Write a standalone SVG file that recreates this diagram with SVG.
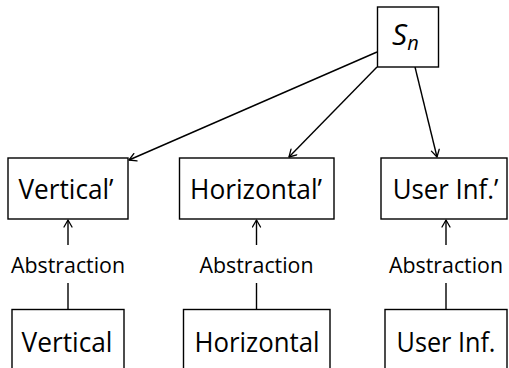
<svg xmlns="http://www.w3.org/2000/svg" width="509" height="368" viewBox="0 0 509 368">
<defs>
<marker id="arr" viewBox="-8 -5 10 10" refX="0" refY="0" markerWidth="10" markerHeight="10" markerUnits="userSpaceOnUse" orient="auto">
<path d="M-7,-4 L0,0 L-7,4" fill="none" stroke="#000" stroke-width="1.3" stroke-linecap="round" stroke-linejoin="round"/>
</marker>
<style>
.box{fill:#fff;stroke:#000;stroke-width:1.4}
.lbl{font-family:"Open Sans","DejaVu Sans",sans-serif;font-size:28px;text-anchor:middle;fill:#000}
.abs{font-family:"Open Sans","DejaVu Sans",sans-serif;font-size:22px;text-anchor:middle;fill:#000}
.edge{fill:none;stroke:#000;stroke-width:1.4}
</style>
</defs>
<g id="connectors">
<line class="edge" x1="377" y1="52" x2="129" y2="160" marker-end="url(#arr)"/>
<line class="edge" x1="377" y1="67" x2="289" y2="157" marker-end="url(#arr)"/>
<line class="edge" x1="415" y1="67" x2="437" y2="157" marker-end="url(#arr)"/>
<line class="edge" x1="68" y1="245" x2="68" y2="220" marker-end="url(#arr)"/>
<line class="edge" x1="68" y1="283" x2="68" y2="309"/>
<text class="abs" x="68" y="273" textLength="114" lengthAdjust="spacingAndGlyphs">Abstraction</text>
<line class="edge" x1="256.5" y1="245" x2="256.5" y2="220" marker-end="url(#arr)"/>
<line class="edge" x1="256.5" y1="283" x2="256.5" y2="309"/>
<text class="abs" x="256.5" y="273" textLength="114" lengthAdjust="spacingAndGlyphs">Abstraction</text>
<line class="edge" x1="446" y1="245" x2="446" y2="220" marker-end="url(#arr)"/>
<line class="edge" x1="446" y1="283" x2="446" y2="309"/>
<text class="abs" x="446" y="273" textLength="114" lengthAdjust="spacingAndGlyphs">Abstraction</text>
</g>
<g id="Sn">
<rect class="box" x="377.5" y="7" width="61" height="60"/>
<text x="392" y="45" font-family="Open Sans, DejaVu Sans, sans-serif" font-size="30" font-style="italic">S<tspan font-size="20" dy="5">n</tspan></text>
</g>
<g id="VerticalP">
<rect class="box" x="8" y="158" width="120" height="61"/>
<text class="lbl" x="66" y="199" textLength="95" lengthAdjust="spacingAndGlyphs">Vertical’</text>
</g>
<g id="HorizontalP">
<rect class="box" x="179.5" y="158" width="154.5" height="61"/>
<text class="lbl" x="256" y="199" textLength="132" lengthAdjust="spacingAndGlyphs">Horizontal’</text>
</g>
<g id="UserInfP">
<rect class="box" x="381" y="158" width="126" height="61"/>
<text class="lbl" x="445.5" y="199" textLength="105.6" lengthAdjust="spacingAndGlyphs">User Inf.’</text>
</g>
<g id="Vertical">
<rect class="box" x="12" y="309.5" width="112" height="70"/>
<text class="lbl" x="67" y="352" textLength="91" lengthAdjust="spacingAndGlyphs">Vertical</text>
</g>
<g id="Horizontal">
<rect class="box" x="183.5" y="309.5" width="146.5" height="70"/>
<text class="lbl" x="257" y="352" textLength="125" lengthAdjust="spacingAndGlyphs">Horizontal</text>
</g>
<g id="UserInf">
<rect class="box" x="385" y="309.5" width="122" height="70"/>
<text class="lbl" x="446" y="352" textLength="99" lengthAdjust="spacingAndGlyphs">User Inf.</text>
</g>
</svg>
